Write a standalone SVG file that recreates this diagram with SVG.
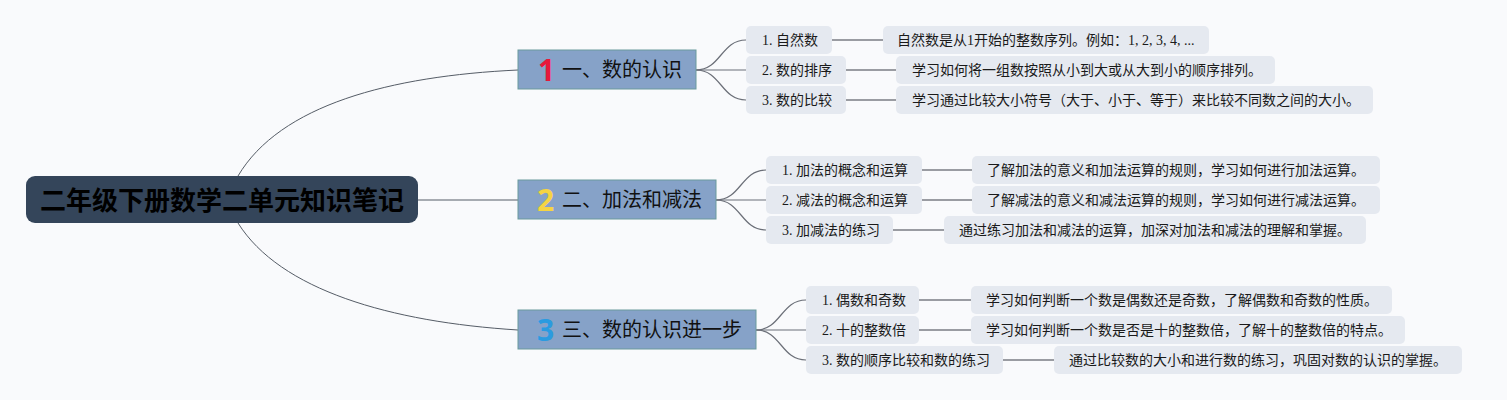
<svg xmlns="http://www.w3.org/2000/svg" width="1507" height="400" viewBox="0 0 1507 400">
<style>
.bg{fill:#f9fafc}
.root rect{fill:#34455a}
.root text{font-family:"Noto Sans CJK SC","Noto Sans",sans-serif;font-weight:bold;font-size:26px;fill:#000;text-anchor:middle}
.br rect{fill:#86a2c8;stroke:#6a9a9c;stroke-width:1}
.br .num{font-family:"Noto Sans","DejaVu Sans",sans-serif;font-weight:bold;font-size:30px}
.br .lbl{font-family:"Noto Sans CJK SC",sans-serif;font-size:20px;fill:#111}
.lf rect{fill:#e5e9f0}
.lf text{font-family:"Liberation Serif","Noto Sans CJK SC",serif;font-size:14px;fill:#1a1a1a}
.c1{fill:none;stroke:#555c66;stroke-width:1}
.c2{fill:none;stroke:#6b6f78;stroke-width:1.2}
.c3{fill:none;stroke:#9a9ca2;stroke-width:2}
</style>
<rect class="bg" x="0" y="0" width="1507" height="400"/>
<g id="connectors">
<path class="c1" d="M238,176 C280,105 390,76 518,70"/>
<path class="c1" d="M418,200 L518,200"/>
<path class="c1" d="M238,223 C280,290 390,322 518,330"/>
<path class="c2" d="M696,70 C721,70 721,40 746,40"/>
<path class="c2" d="M696,70 L746,70"/>
<path class="c2" d="M696,70 C721,70 721,100 746,100"/>
<path class="c2" d="M716,200 C741,200 741,170 766,170"/>
<path class="c2" d="M716,200 L766,200"/>
<path class="c2" d="M716,200 C741,200 741,230 766,230"/>
<path class="c2" d="M756,330 C781,330 781,300 806,300"/>
<path class="c2" d="M756,330 L806,330"/>
<path class="c2" d="M756,330 C781,330 781,360 806,360"/>
<path class="c3" d="M832,40 L883,40"/>
<path class="c3" d="M846,70 L896,70"/>
<path class="c3" d="M846,100 L896,100"/>
<path class="c3" d="M922,170 L972,170"/>
<path class="c3" d="M922,200 L972,200"/>
<path class="c3" d="M893,230 L944,230"/>
<path class="c3" d="M919,300 L971,300"/>
<path class="c3" d="M919,330 L971,330"/>
<path class="c3" d="M1003,360 L1054,360"/>
</g>
<g id="root" class="root">
<rect x="26" y="176" width="392" height="47" rx="9"/>
<text x="222" y="210">二年级下册数学二单元知识笔记</text>
</g>
<g id="b1" class="br">
<rect x="518" y="50" width="178" height="39"/>
<text class="num" x="538" y="81" fill="#e8183a">1</text>
<text class="lbl" x="562" y="77">一、数的认识</text>
</g>
<g id="b2" class="br">
<rect x="518" y="180" width="198" height="39"/>
<text class="num" x="537" y="211" fill="#f5d442">2</text>
<text class="lbl" x="562" y="207">二、加法和减法</text>
</g>
<g id="b3" class="br">
<rect x="518" y="310" width="238" height="39"/>
<text class="num" x="537" y="341" fill="#2a9be0">3</text>
<text class="lbl" x="562" y="337">三、数的认识进一步</text>
</g>
<g id="l11" class="lf"><rect x="746" y="26" width="86" height="28" rx="5"/><text x="762" y="45">1. 自然数</text></g>
<g id="l12" class="lf"><rect x="746" y="56" width="100" height="28" rx="5"/><text x="762" y="75">2. 数的排序</text></g>
<g id="l13" class="lf"><rect x="746" y="86" width="100" height="28" rx="5"/><text x="762" y="105">3. 数的比较</text></g>
<g id="d11" class="lf"><rect x="883" y="26" width="326" height="28" rx="5"/><text x="897" y="45">自然数是从1开始的整数序列。例如：1, 2, 3, 4, ...</text></g>
<g id="d12" class="lf"><rect x="896" y="56" width="379" height="28" rx="5"/><text x="912" y="75">学习如何将一组数按照从小到大或从大到小的顺序排列。</text></g>
<g id="d13" class="lf"><rect x="896" y="86" width="477" height="28" rx="5"/><text x="912" y="105">学习通过比较大小符号（大于、小于、等于）来比较不同数之间的大小。</text></g>
<g id="l21" class="lf"><rect x="766" y="156" width="156" height="28" rx="5"/><text x="782" y="175">1. 加法的概念和运算</text></g>
<g id="l22" class="lf"><rect x="766" y="186" width="156" height="28" rx="5"/><text x="782" y="205">2. 减法的概念和运算</text></g>
<g id="l23" class="lf"><rect x="766" y="216" width="127" height="28" rx="5"/><text x="782" y="235">3. 加减法的练习</text></g>
<g id="d21" class="lf"><rect x="972" y="156" width="408" height="28" rx="5"/><text x="987" y="175">了解加法的意义和加法运算的规则，学习如何进行加法运算。</text></g>
<g id="d22" class="lf"><rect x="972" y="186" width="408" height="28" rx="5"/><text x="987" y="205">了解减法的意义和减法运算的规则，学习如何进行减法运算。</text></g>
<g id="d23" class="lf"><rect x="944" y="216" width="422" height="28" rx="5"/><text x="959" y="235">通过练习加法和减法的运算，加深对加法和减法的理解和掌握。</text></g>
<g id="l31" class="lf"><rect x="806" y="286" width="113" height="28" rx="5"/><text x="822" y="305">1. 偶数和奇数</text></g>
<g id="l32" class="lf"><rect x="806" y="316" width="113" height="28" rx="5"/><text x="822" y="335">2. 十的整数倍</text></g>
<g id="l33" class="lf"><rect x="806" y="346" width="197" height="28" rx="5"/><text x="822" y="365">3. 数的顺序比较和数的练习</text></g>
<g id="d31" class="lf"><rect x="971" y="286" width="421" height="28" rx="5"/><text x="986" y="305">学习如何判断一个数是偶数还是奇数，了解偶数和奇数的性质。</text></g>
<g id="d32" class="lf"><rect x="971" y="316" width="434" height="28" rx="5"/><text x="986" y="335">学习如何判断一个数是否是十的整数倍，了解十的整数倍的特点。</text></g>
<g id="d33" class="lf"><rect x="1054" y="346" width="408" height="28" rx="5"/><text x="1069" y="365">通过比较数的大小和进行数的练习，巩固对数的认识的掌握。</text></g>
</svg>
